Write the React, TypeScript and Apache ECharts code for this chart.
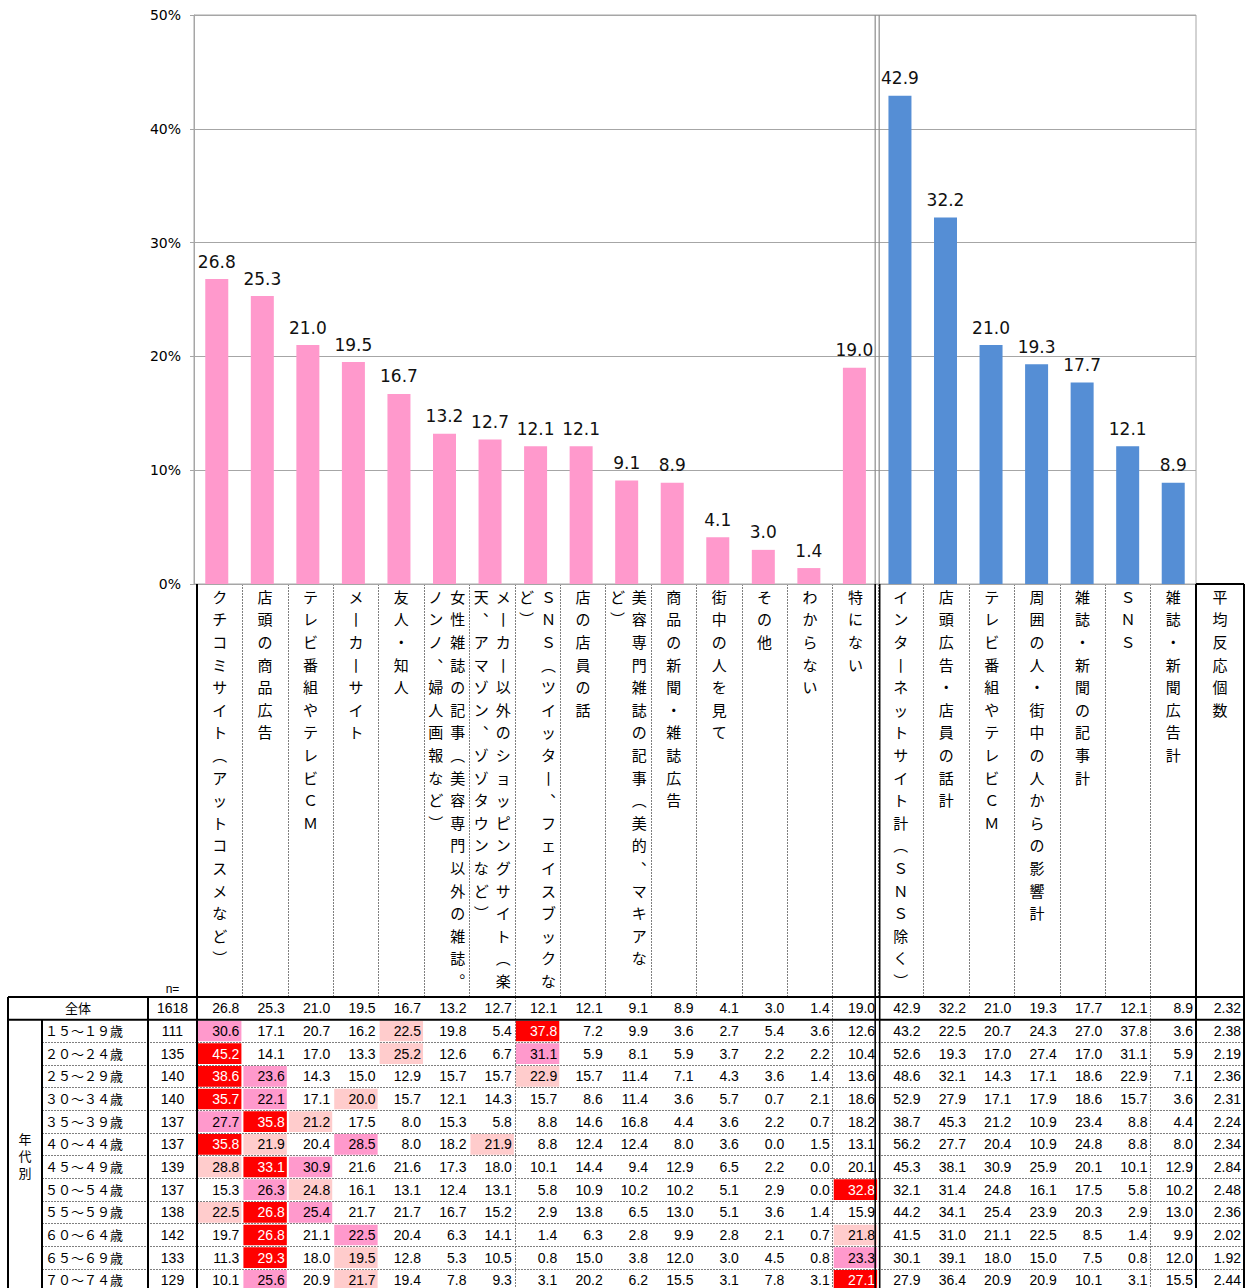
import React, { useEffect, useRef } from 'react';
import * as echarts from 'echarts';

// ---------- DATA ----------
const pinkCategories = [
  'クチコミサイト（アットコスメなど）',
  '店頭の商品広告',
  'テレビ番組やテレビＣＭ',
  'メーカーサイト',
  '友人・知人',
  '女性雑誌の記事（美容専門以外の雑誌。\nノンノ、婦人画報など）',
  'メーカー以外のショッピングサイト（楽\n天、アマゾン、ゾゾタウンなど）',
  'ＳＮＳ（ツイッター、フェイスブックな\nど）',
  '店の店員の話',
  '美容専門雑誌の記事（美的、マキアな\nど）',
  '商品の新聞・雑誌広告',
  '街中の人を見て',
  'その他',
  'わからない',
  '特にない',
];
const blueCategories = [
  'インターネットサイト計（ＳＮＳ除く）',
  '店頭広告・店員の話計',
  'テレビ番組やテレビＣＭ',
  '周囲の人・街中の人からの影響計',
  '雑誌・新聞の記事計',
  'ＳＮＳ',
  '雑誌・新聞広告計',
];
const avgHeader = '平均反応個数';

const pinkOverall = [26.8, 25.3, 21.0, 19.5, 16.7, 13.2, 12.7, 12.1, 12.1, 9.1, 8.9, 4.1, 3.0, 1.4, 19.0];
const blueOverall = [42.9, 32.2, 21.0, 19.3, 17.7, 12.1, 8.9];

const yTicks = [0, 10, 20, 30, 40, 50];

const rowNames = ['全体', '１５～１９歳', '２０～２４歳', '２５～２９歳', '３０～３４歳', '３５～３９歳', '４０～４４歳', '４５～４９歳', '５０～５４歳', '５５～５９歳', '６０～６４歳', '６５～６９歳', '７０～７４歳'];
const nValues = [1618, 111, 135, 140, 140, 137, 137, 139, 137, 138, 142, 133, 129];
const avgValues = [2.32, 2.38, 2.19, 2.36, 2.31, 2.24, 2.34, 2.84, 2.48, 2.36, 2.02, 1.92, 2.44];

const r15_19 = [30.6, 17.1, 20.7, 16.2, 22.5, 19.8, 5.4, 37.8, 7.2, 9.9, 3.6, 2.7, 5.4, 3.6, 12.6, 43.2, 22.5, 20.7, 24.3, 27.0, 37.8, 3.6];
const r20_24 = [45.2, 14.1, 17.0, 13.3, 25.2, 12.6, 6.7, 31.1, 5.9, 8.1, 5.9, 3.7, 2.2, 2.2, 10.4, 52.6, 19.3, 17.0, 27.4, 17.0, 31.1, 5.9];
const r25_29 = [38.6, 23.6, 14.3, 15.0, 12.9, 15.7, 15.7, 22.9, 15.7, 11.4, 7.1, 4.3, 3.6, 1.4, 13.6, 48.6, 32.1, 14.3, 17.1, 18.6, 22.9, 7.1];
const r30_34 = [35.7, 22.1, 17.1, 20.0, 15.7, 12.1, 14.3, 15.7, 8.6, 11.4, 3.6, 5.7, 0.7, 2.1, 18.6, 52.9, 27.9, 17.1, 17.9, 18.6, 15.7, 3.6];
const r35_39 = [27.7, 35.8, 21.2, 17.5, 8.0, 15.3, 5.8, 8.8, 14.6, 16.8, 4.4, 3.6, 2.2, 0.7, 18.2, 38.7, 45.3, 21.2, 10.9, 23.4, 8.8, 4.4];
const r40_44 = [35.8, 21.9, 20.4, 28.5, 8.0, 18.2, 21.9, 8.8, 12.4, 12.4, 8.0, 3.6, 0.0, 1.5, 13.1, 56.2, 27.7, 20.4, 10.9, 24.8, 8.8, 8.0];
const r45_49 = [28.8, 33.1, 30.9, 21.6, 21.6, 17.3, 18.0, 10.1, 14.4, 9.4, 12.9, 6.5, 2.2, 0.0, 20.1, 45.3, 38.1, 30.9, 25.9, 20.1, 10.1, 12.9];
const r50_54 = [15.3, 26.3, 24.8, 16.1, 13.1, 12.4, 13.1, 5.8, 10.9, 10.2, 10.2, 5.1, 2.9, 0.0, 32.8, 32.1, 31.4, 24.8, 16.1, 17.5, 5.8, 10.2];
const r55_59 = [22.5, 26.8, 25.4, 21.7, 21.7, 16.7, 15.2, 2.9, 13.8, 6.5, 13.0, 5.1, 3.6, 1.4, 15.9, 44.2, 34.1, 25.4, 23.9, 20.3, 2.9, 13.0];
const r60_64 = [19.7, 26.8, 21.1, 22.5, 20.4, 6.3, 14.1, 1.4, 6.3, 2.8, 9.9, 2.8, 2.1, 0.7, 21.8, 41.5, 31.0, 21.1, 22.5, 8.5, 1.4, 9.9];
const r65_69 = [11.3, 29.3, 18.0, 19.5, 12.8, 5.3, 10.5, 0.8, 15.0, 3.8, 12.0, 3.0, 4.5, 0.8, 23.3, 30.1, 39.1, 18.0, 15.0, 7.5, 0.8, 12.0];
const r70_74 = [10.1, 25.6, 20.9, 21.7, 19.4, 7.8, 9.3, 3.1, 20.2, 6.2, 15.5, 3.1, 7.8, 3.1, 27.1, 27.9, 36.4, 20.9, 20.9, 10.1, 3.1, 15.5];

// ---------- LAYOUT / STYLE ----------
const W = 1256;
const H = 1288;
const PLOT = { left: 194, right: 1196, top: 15, bottom: 584 };
const TBL = { left: 8, ageCol: 42, nCol: 148, dataLeft: 197, dataRight: 1196, avgRight: 1244, headerTop: 584, bodyTop: 997, rowH: 22.67 };
const PINK = '#FF99CC';
const BLUE = '#558ED5';
const GRID_GRAY = '#A6A6A6';
const DOT = { color: '#7F7F7F', width: 1, type: [2, 1] as any };
const HL = ['', '#FF0000', '#FF99CC', '#FFCCCC'];
const NUM_FONT = "'Liberation Sans', Arial, sans-serif";
const LABEL_FONT = "'DejaVu Sans', Verdana, sans-serif";
const CJK_FONT = "'Noto Sans CJK JP', 'Noto Sans CJK SC', sans-serif";

const VERT: Record<string, string> = { '（': '︵', '）': '︶', '、': '︑', '。': '︒', 'ー': '丨' };
function toVertical(label: string): string {
  const cols = label.split('\n').map((s) => Array.from(s).map((ch) => VERT[ch] ?? ch));
  const n = Math.max(...cols.map((c) => c.length));
  const lines: string[] = [];
  for (let i = 0; i < n; i++) {
    let line = '';
    for (let k = cols.length - 1; k >= 0; k--) line += `{v|${cols[k][i] ?? '　'}}`;
    lines.push(line);
  }
  return lines.join('\n');
}
const vertRich = { v: { width: 22, align: 'center', fontSize: 15, lineHeight: 22.6, fontFamily: CJK_FONT, color: '#000' } };

function buildOption() {
  const categories = [...pinkCategories, ...blueCategories];
  const overall = [...pinkOverall, ...blueOverall];
  const tableRows = [overall, r15_19, r20_24, r25_29, r30_34, r35_39, r40_44, r45_49, r50_54, r55_59, r60_64, r65_69, r70_74];
  const nPink = pinkOverall.length;

  const levels = (row: number[]) => {
    const u = Array.from(new Set(row.slice(0, nPink))).sort((a, b) => b - a);
    return row.map((v, i) => (i >= nPink ? 0 : v === u[0] ? 1 : v === u[1] ? 2 : v === u[2] ? 3 : 0));
  };
  const bodyData: number[][] = [];
  tableRows.forEach((row, r) => {
    const lv = r === 0 ? row.map(() => 0) : levels(row);
    row.forEach((v, c) => bodyData.push([c, r, v, lv[c]]));
  });

  const bodyH = rowNames.length * TBL.rowH;
  const dataW = TBL.dataRight - TBL.dataLeft;
  const plotW = PLOT.right - PLOT.left;
  const headerH = TBL.bodyTop - TBL.headerTop;

  const barData = overall.map((v, i) => ({ value: v, itemStyle: { color: i < nPink ? PINK : BLUE } }));

  // layout lines
  const bottom = H + 6;
  const divPlot = PLOT.left + (nPink * plotW) / categories.length;
  const line = (x1: number, y1: number, x2: number, y2: number, stroke = '#000', lineWidth = 2) => ({
    type: 'line', z: 100, silent: true, shape: { x1, y1, x2, y2 }, style: { stroke, lineWidth },
  });
  const firstRowBottom = TBL.bodyTop + TBL.rowH;
  const graphics: any[] = [
    line(divPlot - 2, PLOT.top, divPlot - 2, PLOT.bottom, '#8C8C8C', 1.2),
    line(divPlot + 2, PLOT.top, divPlot + 2, PLOT.bottom, '#8C8C8C', 1.2),
    line(TBL.left, TBL.bodyTop, TBL.avgRight, TBL.bodyTop),
    line(TBL.left, firstRowBottom, TBL.avgRight, firstRowBottom),
    line(TBL.dataRight, TBL.headerTop, TBL.avgRight, TBL.headerTop),
    line(TBL.left, TBL.bodyTop, TBL.left, bottom),
    line(TBL.ageCol, firstRowBottom, TBL.ageCol, bottom),
    line(TBL.nCol, TBL.bodyTop, TBL.nCol, bottom),
    line(TBL.dataLeft, TBL.headerTop, TBL.dataLeft, bottom),
    line(divPlot - 2, TBL.headerTop, divPlot - 2, bottom, '#000', 1.6),
    line(divPlot + 2.5, TBL.headerTop, divPlot + 2.5, bottom, '#000', 1.6),
    line(TBL.dataRight, TBL.headerTop, TBL.dataRight, bottom),
    line(TBL.avgRight, TBL.headerTop, TBL.avgRight, bottom),
    {
      type: 'text', z: 100, silent: true, x: (TBL.nCol + TBL.dataLeft) / 2, y: TBL.bodyTop - 8,
      style: { text: 'n=', align: 'center', verticalAlign: 'middle', fontSize: 12, fontFamily: NUM_FONT, fill: '#000' },
    },
    {
      type: 'text', z: 100, silent: true, x: (TBL.left + TBL.ageCol) / 2, y: (firstRowBottom + TBL.bodyTop + bodyH) / 2,
      style: { text: '年\n代\n別', align: 'center', verticalAlign: 'middle', fontSize: 13, lineHeight: 17, fontFamily: CJK_FONT, fill: '#000' },
    },
  ];

  const headerAxis = (data: string[], gridIndex: number) => ({
    type: 'category', gridIndex, data, position: 'top',
    axisLine: { show: false }, axisTick: { show: false },
    axisLabel: {
      inside: true, interval: 0, margin: 1, verticalAlign: 'top', hideOverlap: false,
      formatter: (v: string) => toVertical(v), rich: vertRich,
    },
    splitLine: { show: true, lineStyle: DOT },
  });

  const catBodyY = (gridIndex: number) => ({
    type: 'category', gridIndex, data: rowNames, inverse: true,
    axisLine: { show: false }, axisTick: { show: false }, axisLabel: { show: false },
    splitLine: { show: true, lineStyle: DOT },
  });

  const gridBase = { containLabel: false, outerBoundsMode: 'none' };

  return {
    animation: false,
    backgroundColor: '#fff',
    textStyle: { fontFamily: LABEL_FONT },
    grid: [
      { ...gridBase, left: PLOT.left, top: PLOT.top, width: plotW, height: PLOT.bottom - PLOT.top, show: true, borderColor: GRID_GRAY, borderWidth: 1 },
      { ...gridBase, left: TBL.dataLeft, top: TBL.headerTop, width: dataW, height: headerH },
      { ...gridBase, left: TBL.dataRight, top: TBL.headerTop, width: TBL.avgRight - TBL.dataRight, height: headerH },
      { ...gridBase, left: TBL.dataLeft, top: TBL.bodyTop, width: dataW, height: bodyH },
      { ...gridBase, left: TBL.ageCol, top: TBL.bodyTop, width: TBL.dataLeft - TBL.ageCol, height: bodyH },
      { ...gridBase, left: TBL.dataRight, top: TBL.bodyTop, width: TBL.avgRight - TBL.dataRight, height: bodyH },
    ],
    xAxis: [
      {
        type: 'category', gridIndex: 0, data: categories,
        axisLine: { show: true, lineStyle: { color: GRID_GRAY } }, axisTick: { show: false }, axisLabel: { show: false },
      },
      headerAxis(categories, 1),
      headerAxis([avgHeader], 2),
      {
        type: 'category', gridIndex: 3, data: categories,
        axisLine: { show: false }, axisTick: { show: false }, axisLabel: { show: false },
        splitLine: { show: true, lineStyle: DOT },
      },
      { type: 'value', gridIndex: 4, min: 0, max: 1, show: false },
      { type: 'value', gridIndex: 5, min: 0, max: 1, show: false },
    ],
    yAxis: [
      {
        type: 'value', gridIndex: 0, min: yTicks[0], max: yTicks[yTicks.length - 1], interval: 10,
        axisLine: { show: true, lineStyle: { color: GRID_GRAY } },
        axisTick: { show: true, length: 4, lineStyle: { color: GRID_GRAY } },
        axisLabel: { formatter: '{value}%', fontSize: 14, color: '#000', margin: 13, fontFamily: LABEL_FONT },
        splitLine: { show: true, lineStyle: { color: GRID_GRAY, width: 1 } },
      },
      { type: 'value', gridIndex: 1, show: false, min: 0, max: 1 },
      { type: 'value', gridIndex: 2, show: false, min: 0, max: 1 },
      catBodyY(3),
      catBodyY(4),
      catBodyY(5),
    ],
    series: [
      {
        type: 'bar', xAxisIndex: 0, yAxisIndex: 0, data: barData, barWidth: 23,
        label: {
          show: true, position: 'top', distance: 9, fontSize: 17, color: '#111', fontFamily: LABEL_FONT,
          formatter: (p: any) => Number(p.value).toFixed(1),
        },
      },
      {
        type: 'custom', xAxisIndex: 3, yAxisIndex: 3, data: bodyData, encode: { x: 0, y: 1 },
        renderItem: (params: any, api: any) => {
          const c = api.value(0);
          const r = api.value(1);
          const v = api.value(2);
          const lv = api.value(3);
          const p = api.coord([c, r]);
          const s = api.size([1, 1]);
          const x0 = p[0] - s[0] / 2;
          const y0 = p[1] - s[1] / 2;
          const children: any[] = [];
          if (lv) children.push({ type: 'rect', shape: { x: x0 + 1, y: y0 + 1, width: s[0] - 2, height: s[1] - 2 }, style: { fill: HL[lv] } });
          children.push({
            type: 'text',
            style: { text: Number(v).toFixed(1), x: x0 + s[0] - 3, y: p[1], align: 'right', verticalAlign: 'middle', fill: lv === 1 ? '#fff' : '#000', fontSize: 14, fontFamily: NUM_FONT },
          });
          return { type: 'group', children };
        },
      },
      {
        type: 'custom', xAxisIndex: 4, yAxisIndex: 4, data: nValues.map((n, r) => [0, r, n]), encode: { x: 0, y: 1 },
        renderItem: (params: any, api: any) => {
          const r = api.value(1);
          const p = api.coord([0, r]);
          const children: any[] = [
            {
              type: 'text',
              style: { text: String(api.value(2)), x: (TBL.nCol + TBL.dataLeft) / 2, y: p[1], align: 'center', verticalAlign: 'middle', fill: '#000', fontSize: 14, fontFamily: NUM_FONT },
            },
            {
              type: 'text',
              style: r === 0
                ? { text: rowNames[r], x: (TBL.left + TBL.nCol) / 2, y: p[1] - 0.5, align: 'center', verticalAlign: 'middle', fill: '#000', fontSize: 13, lineHeight: 14, fontFamily: CJK_FONT }
                : { text: rowNames[r], x: TBL.ageCol + 3, y: p[1] - 0.5, align: 'left', verticalAlign: 'middle', fill: '#000', fontSize: 13, lineHeight: 14, fontFamily: CJK_FONT },
            },
          ];
          return { type: 'group', children };
        },
      },
      {
        type: 'custom', xAxisIndex: 5, yAxisIndex: 5, data: avgValues.map((a, r) => [0, r, a]), encode: { x: 0, y: 1 },
        renderItem: (params: any, api: any) => {
          const r = api.value(1);
          const p = api.coord([0, r]);
          return {
            type: 'text',
            style: { text: Number(api.value(2)).toFixed(2), x: TBL.avgRight - 3, y: p[1], align: 'right', verticalAlign: 'middle', fill: '#000', fontSize: 14, fontFamily: NUM_FONT },
          };
        },
      },
    ],
    graphic: graphics,
  };
}

export default function App() {
  const ref = useRef<HTMLDivElement>(null);
  useEffect(() => {
    if (!ref.current) return;
    const chart = echarts.init(ref.current, null, { renderer: 'svg' });
    chart.setOption(buildOption() as any);
    return () => chart.dispose();
  }, []);
  return <div ref={ref} style={{ position: 'absolute', left: 0, top: 0, width: W, height: H, background: '#fff' }} />;
}
